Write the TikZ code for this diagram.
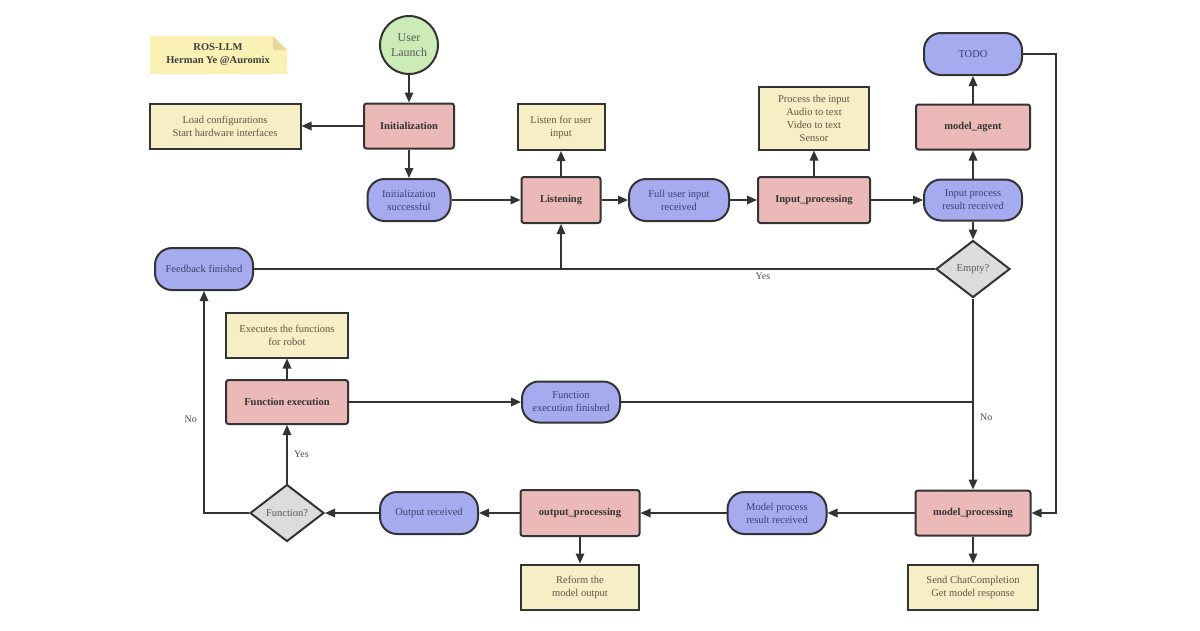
\documentclass[tikz,border=0pt]{standalone}
\usepackage{fontspec}
\setmainfont{Liberation Serif}
\usepackage{xcolor}
\usepackage{tikz}
\usetikzlibrary{positioning, arrows.meta, shapes.geometric}
\definecolor{stateblue}{HTML}{A6ABF0}
\definecolor{procpink}{HTML}{EBB9B7}
\definecolor{notecream}{HTML}{F6EEC4}
\definecolor{startgreen}{HTML}{CBEBB7}
\definecolor{decgray}{HTML}{DCDCDC}
\definecolor{edgegray}{HTML}{333333}
\definecolor{tagyellow}{HTML}{FAF1B5}
\definecolor{tagfold}{HTML}{E6D99A}
\definecolor{bluetext}{HTML}{3B3F70}
\definecolor{creamtext}{HTML}{5C5647}

\tikzset{
  base/.style={draw=edgegray, line width=2pt, align=center, inner sep=2pt,
    font=\fontsize{10.5}{13}\selectfont},
  procbox/.style={base, fill=procpink, rounded corners=2.5pt, text=black!80,
    font=\fontsize{10.5}{13}\selectfont\bfseries},
  statebox/.style={base, fill=stateblue, rounded corners=17pt, text=bluetext},
  infobox/.style={base, fill=notecream, text=creamtext},
  startnode/.style={base, circle, fill=startgreen, minimum size=58pt, inner sep=0pt,
    text=black!65, font=\fontsize{12}{15}\selectfont},
  decision/.style={base, diamond, fill=decgray, inner sep=0pt, minimum width=74pt,
    minimum height=57pt, text=black!65},
  flow/.style={draw=edgegray, line width=1.7pt, -{Triangle[length=10pt,width=8.5pt]}},
  link/.style={draw=edgegray, line width=1.7pt},
  branch/.style={font=\fontsize{10}{12}\selectfont, text=black!70}
}

\begin{document}
\begin{tikzpicture}[x=1pt, y=-1pt]
  \fill[white] (0,0) rectangle (1200,630);
  \useasboundingbox (0,0) rectangle (1200,630);

  % title tag with folded corner
  \fill[tagyellow] (150,36) -- (273,36) -- (287,50) -- (287,74) -- (150,74) -- cycle;
  \fill[tagfold] (273,36) -- (287,50) -- (273,50) -- cycle;
  \node[font=\fontsize{10.5}{13}\selectfont\bfseries, text=black!75, align=center]
    (tag) at (218,55) {ROS-LLM\\Herman Ye @Auromix};

  \node[startnode] (launch) at (409,45) {User\\Launch};
  \node[procbox, minimum width=90pt, minimum height=45pt] (init) at (409,126) {Initialization};
  \node[infobox, minimum width=151pt, minimum height=45pt] (loadcfg) at (225,126)
    {Load configurations\\Start hardware interfaces};
  \node[statebox, minimum width=83pt, minimum height=42pt] (initok) at (409,200)
    {Initialization\\successful};
  \node[procbox, minimum width=79pt, minimum height=46pt] (listening) at (561,200) {Listening};
  \node[infobox, minimum width=87pt, minimum height=46pt] (listennote) at (561,127)
    {Listen for user\\input};
  \node[statebox, minimum width=100pt, minimum height=42pt] (fullinput) at (679,200)
    {Full user input\\received};
  \node[procbox, minimum width=112pt, minimum height=46pt] (inproc) at (814,200) {Input\_processing};
  \node[infobox, minimum width=110pt, minimum height=63pt] (inprocnote) at (814,118)
    {Process the input\\Audio to text\\Video to text\\Sensor};
  \node[statebox, minimum width=98pt, minimum height=42pt] (todo) at (973,54) {TODO};
  \node[procbox, minimum width=114pt, minimum height=45pt] (agent) at (973,127) {model\_agent};
  \node[statebox, minimum width=98pt, minimum height=41pt] (inresult) at (973,200)
    {Input process\\result received};
  \node[decision] (empty) at (973,269) {Empty?};
  \node[statebox, minimum width=98pt, minimum height=42pt] (feedback) at (204,269) {Feedback finished};
  \node[infobox, minimum width=122pt, minimum height=45pt] (execnote) at (287,335)
    {Executes the functions\\for robot};
  \node[procbox, minimum width=122pt, minimum height=44pt] (funcexec) at (287,402) {Function execution};
  \node[statebox, minimum width=98pt, minimum height=41pt] (funcdone) at (571,402)
    {Function\\execution finished};
  \node[decision] (isfunc) at (287,513) {Function?};
  \node[statebox, minimum width=98pt, minimum height=42pt] (outrecv) at (429,513) {Output received};
  \node[procbox, minimum width=119pt, minimum height=46pt] (outproc) at (580,513) {output\_processing};
  \node[infobox, minimum width=118pt, minimum height=45pt] (reform) at (580,587)
    {Reform the\\model output};
  \node[statebox, minimum width=99pt, minimum height=42pt] (modelresult) at (777,513)
    {Model process\\result received};
  \node[procbox, minimum width=115pt, minimum height=45pt] (modelproc) at (973,513) {model\_processing};
  \node[infobox, minimum width=130pt, minimum height=45pt] (chatnote) at (973,587)
    {Send ChatCompletion\\Get model response};

  % upper row
  \draw[flow] (launch) -- (init);
  \draw[flow] (init) -- (loadcfg);
  \draw[flow] (init) -- (initok);
  \draw[flow] (initok) -- (listening);
  \draw[flow] (listening) -- (listennote);
  \draw[flow] (listening) -- (fullinput);
  \draw[flow] (fullinput) -- (inproc);
  \draw[flow] (inproc) -- (inprocnote);
  \draw[flow] (inproc) -- (inresult);
  \draw[flow] (inresult) -- (agent);
  \draw[flow] (agent) -- (todo);
  \draw[flow] (inresult) -- (empty);
  \draw[flow] (todo.east) -- ++(33,0) |- (modelproc.east);

  % back to listening
  \draw[flow] (empty.west) -| node[branch, below, pos=0.23] {Yes} (listening.south);
  \draw[link] (feedback.east) -- (feedback -| listening);
  \draw[flow] (empty.south) -- node[branch, right, pos=0.62, xshift=3pt] {No} (modelproc.north);
  \draw[link] (funcdone.east) -- (funcdone -| empty);

  % lower row
  \draw[flow] (modelproc) -- (modelresult);
  \draw[flow] (modelproc) -- (chatnote);
  \draw[flow] (modelresult) -- (outproc);
  \draw[flow] (outproc) -- (reform);
  \draw[flow] (outproc) -- (outrecv);
  \draw[flow] (outrecv) -- (isfunc);
  \draw[flow] (isfunc.north) -- node[branch, right, pos=0.5, xshift=3pt] {Yes} (funcexec.south);
  \draw[flow] (funcexec) -- (execnote);
  \draw[flow] (funcexec) -- (funcdone);
  \draw[flow] (isfunc.west) -| node[branch, left, pos=0.71, xshift=-3pt] {No} (feedback.south);
\end{tikzpicture}
\end{document}
